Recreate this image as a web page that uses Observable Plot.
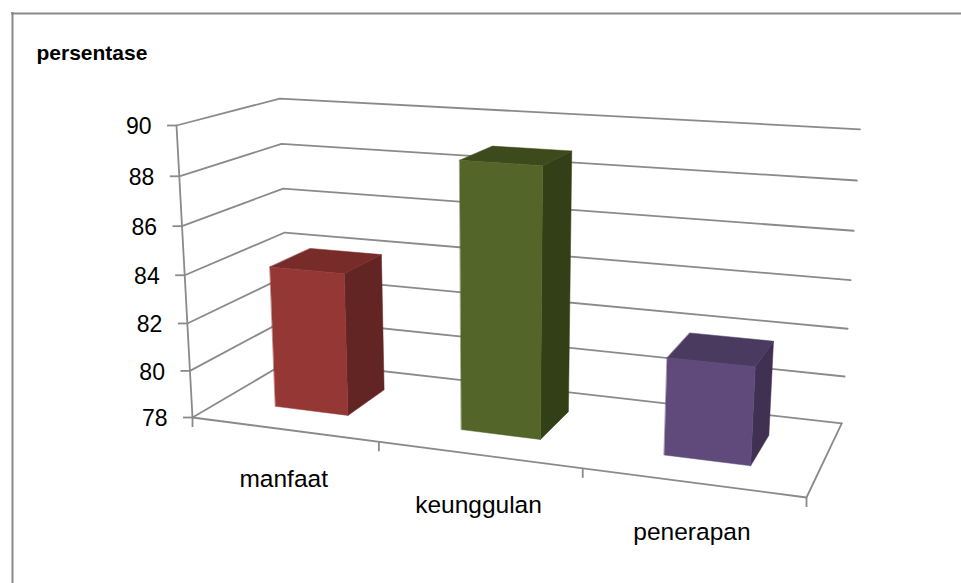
<!DOCTYPE html>
<html>
<head>
<meta charset="utf-8">
<script src="https://cdn.jsdelivr.net/npm/d3@7"></script>
<script src="https://cdn.jsdelivr.net/npm/@observablehq/plot@0.6"></script>
<style>
  html, body { margin: 0; padding: 0; background: #fff; overflow: hidden; }
  svg { display: block; }
</style>
</head>
<body>
<div id="chart"></div>
<script>
const categories = ["manfaat", "keunggulan", "penerapan"];
const values = [84, 88.9, 81.9];
const ticks = [78, 80, 82, 84, 86, 88, 90];
const yTitle = "persentase";

const frontFaces = ["#953735", "#54652a", "#604a7b"];
const sideFaces = ["#632523", "#333f17", "#403152"];
const topFaces = ["#772c2a", "#3d4a1b", "#4a3a60"];

const gray = "#8a8a8a";
const width = 961, height = 583;

// Perspective box: the floor's corner and the far ends of its three edges,
// plus the homogeneous weights that give the foreshortening along each axis.
const corner = [192, 417], endX = [806, 497], endY = [176, 125], endZ = [289, 360];
const wx = -0.128, wy = -0.05, wz = 0.12;

const valueUnit = d3.scaleLinear().domain([78, 90]).range([0, 1]);

function project(u, v, d) {
  const w = 1 + wx * u + wy * v + wz * d;
  const axis = (i) =>
    corner[i] +
    u * (endX[i] * (1 + wx) - corner[i]) +
    v * (endY[i] * (1 + wy) - corner[i]) +
    d * (endZ[i] * (1 + wz) - corner[i]);
  return {px: axis(0) / w, py: axis(1) / w};
}

const n = categories.length;
const barHalf = 0.4 / n / 2;
const depth0 = 0.288, depth1 = 0.712;

function face(corners) {
  return corners.map(([u, v, d]) => project(u, v, d));
}

// Gridlines run along the left wall, then along the back wall.
const gridLines = ticks.map((t) => {
  const v = valueUnit(t);
  return face([[0, v, 0], [0, v, 1], [1, v, 1]]);
});

const boxEdges = [
  face([[0, 0, 0], [0, 1, 0]]),
  face([[0, 0, 0], [1, 0, 0], [1, 0, 1]])
];

const yTicks = ticks.map((t) => {
  const p = project(0, valueUnit(t), 0);
  return {label: String(t), px: p.px, py: p.py};
});

const xTicks = d3.range(n + 1).map((i) => project(i / n, 0, 0));

const xLabels = categories.map((c, i) => ({label: c, ...project((i + 0.5) / n, 0, 0)}));

const barFaces = categories.flatMap((c, i) => {
  const u0 = (i + 0.5) / n - barHalf, u1 = (i + 0.5) / n + barHalf;
  const v = valueUnit(values[i]);
  return [
    {fill: sideFaces[i], points: face([[u1, 0, depth0], [u1, 0, depth1], [u1, v, depth1], [u1, v, depth0]])},
    {fill: topFaces[i], points: face([[u0, v, depth0], [u1, v, depth0], [u1, v, depth1], [u0, v, depth1]])},
    {fill: frontFaces[i], points: face([[u0, 0, depth0], [u1, 0, depth0], [u1, v, depth0], [u0, v, depth0]])}
  ];
});

const xy = {x: "px", y: "py"};

const chart = Plot.plot({
  width, height,
  margin: 0,
  x: {domain: [0, width], range: [0, width], axis: null},
  y: {domain: [0, height], range: [0, height], axis: null},
  style: {fontFamily: "'Liberation Sans', Arial, sans-serif", background: "#fff", color: "#000"},
  marks: [
    Plot.ruleX([12], {y1: 12, y2: height, stroke: gray, strokeWidth: 2}),
    Plot.ruleY([13], {x1: 11, x2: width, stroke: gray, strokeWidth: 2}),
    ...gridLines.map((l) => Plot.line(l, {...xy, stroke: gray, strokeWidth: 1.8})),
    ...boxEdges.map((l) => Plot.line(l, {...xy, stroke: gray, strokeWidth: 1.8})),
    Plot.ruleY(yTicks, {y: "py", x1: (d) => d.px - 9, x2: "px", stroke: gray, strokeWidth: 1.8}),
    Plot.ruleX(xTicks, {x: "px", y1: "py", y2: (d) => d.py + 10, stroke: gray, strokeWidth: 1.8}),
    ...barFaces.map((f) => Plot.line(f.points, {...xy, fill: f.fill, stroke: f.fill, strokeWidth: 0.5, curve: "linear-closed"})),
    Plot.text(yTicks, {...xy, text: "label", dx: -25, dy: 1.5, textAnchor: "end", fontSize: 23, fill: "#000"}),
    Plot.text(xLabels, {...xy, text: "label", dy: 50, textAnchor: "middle", fontSize: 24.5, fill: "#000"}),
    Plot.text([yTitle], {x: 36, y: 53, text: (d) => d, textAnchor: "start", fontSize: 21, fontWeight: "bold", fill: "#000"})
  ]
});

document.getElementById("chart").append(chart);
</script>
</body>
</html>
